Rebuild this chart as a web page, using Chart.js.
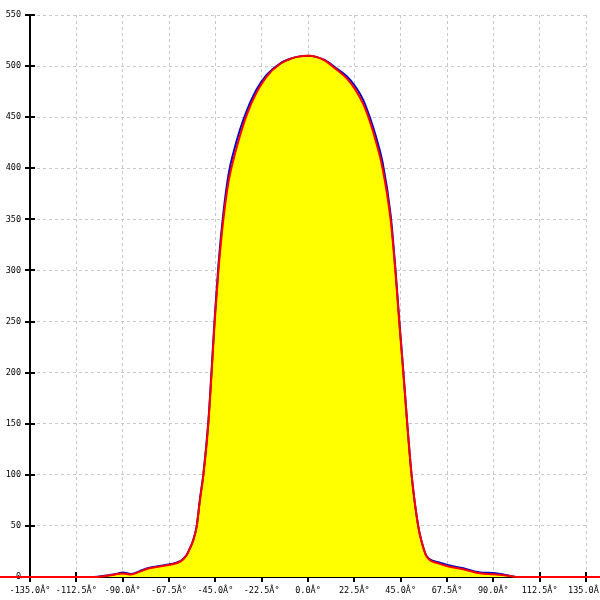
<!DOCTYPE html>
<html>
<head>
<meta charset="utf-8">
<script src="https://cdn.jsdelivr.net/npm/chart.js@4"></script>
<style>
  html, body { margin:0; padding:0; background:#fff; }
  #wrap { width:600px; height:600px; }
</style>
</head>
<body>
<div id="wrap"><canvas id="c" width="600" height="600"></canvas></div>
<script>
// angle ticks and y ticks
const xTicks = [-135, -112.5, -90, -67.5, -45, -22.5, 0, 22.5, 45, 67.5, 90, 112.5, 135];
const yTicks = [0, 50, 100, 150, 200, 250, 300, 350, 400, 450, 500, 550];

// red curve (also the yellow area)
const redAngles = [-150, -105, -100, -95, -90, -86, -82, -78, -73, -67, -62, -59, -57.3, -55.7, -54, -52.5, -50.8, -48.4, -46.8, -45.3, -43.5, -41.1, -38.5, -36, -33, -29.8, -25, -20, -13.6, -8, -4, 0, 4, 8, 13, 18.8, 23, 26.8, 30, 33, 36.2, 40.1, 42.4, 44.3, 46.3, 48.2, 50.3, 53.5, 55, 57.6, 63.3, 67.3, 75.4, 83.5, 90, 98, 102, 150];
const redValues = [0, 0, 0.5, 2, 3.5, 2.5, 5, 8, 10, 12, 15, 21, 28, 36, 50, 75, 100, 150, 200, 250, 300, 350, 388, 410, 432, 452, 474, 490, 502, 507.5, 509.5, 510, 509, 505.5, 498, 488, 477, 463, 446, 426, 400, 350, 300, 250, 200, 150, 100, 50, 36, 20, 13.4, 10.8, 7.5, 3.6, 2.6, 1, 0, 0];

// blue curve, slightly outside the red one on the flanks
const blueAngles = [-150, -104, -98, -93, -90, -86, -82, -78, -73, -67, -62, -59, -57.3, -55.7, -54, -52.5, -50.8, -48.4, -46.8, -45.3, -43.5, -41.1, -38.5, -36, -33, -29.8, -25, -20, -13.6, -8, -4, 0, 4, 8, 13, 18.8, 23, 26.8, 30, 33, 36.2, 40.1, 42.4, 44.3, 46.3, 48.2, 50.3, 53.5, 55, 57.6, 63.3, 67.3, 75.4, 83.5, 90, 96, 101, 150];
const blueValues = [0, 0, 1.5, 3, 4.5, 3, 5.5, 8.5, 10.5, 12.5, 15.5, 21.5, 28.5, 36.5, 50.5, 76, 101, 152, 203, 254, 305, 356, 395, 417, 438, 456, 477, 491.5, 502.5, 507.5, 509.5, 510, 509, 506, 499, 490, 480, 467, 450, 431, 406, 355, 303, 252, 201, 150, 100, 50, 36, 20.5, 14.5, 12, 8.5, 4.5, 4, 2, 0, 0];

const pts = (xs, ys) => xs.map((x, i) => ({ x, y: ys[i] }));

const monoFont = { family: "'DejaVu Sans Mono', monospace", size: 8.5 };

// black tick marks crossing both axes
const crossTicks = {
  id: 'crossTicks',
  beforeDatasetsDraw(chart) {
    const ctx = chart.ctx;
    const xs = chart.scales.x, ys = chart.scales.y;
    const a = chart.chartArea;
    ctx.save();
    ctx.strokeStyle = '#000';
    ctx.lineWidth = 2;
    ctx.beginPath();
    xTicks.forEach(v => {
      const px = Math.round(xs.getPixelForValue(v));
      ctx.moveTo(px, a.bottom - 5); ctx.lineTo(px, a.bottom + 5);
    });
    yTicks.forEach(v => {
      const py = Math.round(ys.getPixelForValue(v));
      ctx.moveTo(a.left - 5, py); ctx.lineTo(a.left + 5, py);
    });
    ctx.stroke();
    ctx.restore();
  }
};

new Chart(document.getElementById('c'), {
  type: 'line',
  data: {
    datasets: [
      { data: pts(redAngles, redValues), borderColor: '#ff0000', borderWidth: 2, fill: false, pointRadius: 0, cubicInterpolationMode: 'monotone', clip: false, order: 0 },
      { data: pts(blueAngles, blueValues), borderColor: '#0000cc', borderWidth: 2, fill: false, pointRadius: 0, cubicInterpolationMode: 'monotone', order: 1 },
      { data: pts(redAngles, redValues), borderWidth: 0, borderColor: 'rgba(0,0,0,0)', backgroundColor: '#ffff00', fill: 'origin', pointRadius: 0, cubicInterpolationMode: 'monotone', order: 2 }
    ]
  },
  options: {
    responsive: false,
    animation: false,
    layout: { padding: { top: 15, right: 14, left: 0, bottom: 0 } },
    plugins: { legend: { display: false }, tooltip: { enabled: false } },
    scales: {
      x: {
        type: 'linear', min: -135, max: 135,
        afterBuildTicks: s => { s.ticks = xTicks.map(v => ({ value: v })); },
        afterFit: s => { s.height = 23; s.paddingLeft = 0; s.paddingRight = 0; },
        ticks: { color: '#000', font: monoFont, maxRotation: 0, autoSkip: false, padding: 9,
                 callback: v => v.toFixed(1) + 'Â°' },
        grid: { color: '#c8c8c8', drawTicks: false },
        border: { color: '#000', width: 2, dash: [3, 3] }
      },
      y: {
        min: 0, max: 550,
        afterBuildTicks: s => { s.ticks = yTicks.map(v => ({ value: v })); },
        afterFit: s => { s.width = 30; s.paddingTop = 0; s.paddingBottom = 0; },
        ticks: { color: '#000', font: monoFont, padding: 9 },
        grid: { color: '#c8c8c8', drawTicks: false },
        border: { color: '#000', width: 2, dash: [3, 3] }
      }
    }
  },
  plugins: [crossTicks]
});
</script>
</body>
</html>
